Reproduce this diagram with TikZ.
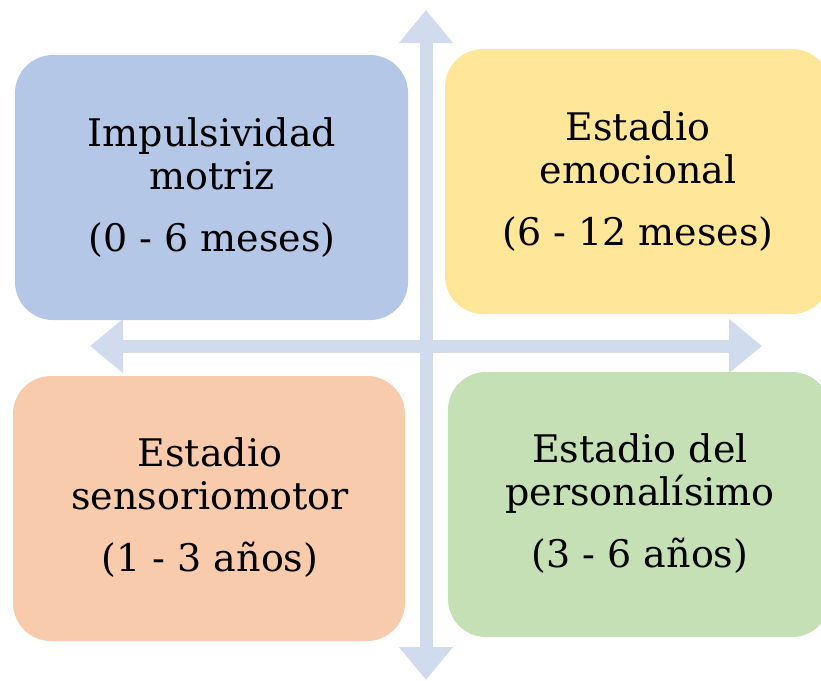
\documentclass[tikz,border=0pt]{standalone}
\usepackage{fontspec}
\setmainfont{DejaVu Serif}
\usetikzlibrary{arrows.meta}
\definecolor{cblue}{HTML}{B4C7E7}
\definecolor{cyellow}{HTML}{FFE699}
\definecolor{corange}{HTML}{F8CBAD}
\definecolor{cgreen}{HTML}{C5E0B4}
\definecolor{carrow}{HTML}{D0DCEE}
\tikzset{
  quad/.style={rounded corners=38pt, inner sep=0pt, outer sep=0pt},
  lbl/.style={align=center, font=\fontsize{38}{43}\selectfont, text=black, inner sep=0pt},
  axis/.style={carrow, line width=13pt, {Triangle[width=52pt,length=33pt]}-{Triangle[width=52pt,length=33pt]}}
}
\begin{document}
\begin{tikzpicture}[x=1pt,y=-1pt]
\useasboundingbox (0,0) rectangle (821,680);
\clip (0,0) rectangle (821,680);
\coordinate (vt) at (426,10);
\coordinate (vb) at (426,680);
\coordinate (hl) at (90,346);
\coordinate (hr) at (762,346);
\draw[axis] (vt) -- (vb);
\draw[axis] (hl) -- (hr);
\fill[cblue, quad] (15,55) rectangle (408,320);
\fill[cyellow, quad] (445,49) rectangle (830,314);
\fill[corange, quad] (13,376) rectangle (405,641);
\fill[cgreen, quad] (448,372) rectangle (830,637);
\node[lbl] (t1) at (212,188) {Impulsividad\\motriz\\[19pt](0 - 6 meses)};
\node[lbl] (t2) at (638,182) {Estadio\\emocional\\[19pt](6 - 12 meses)};
\node[lbl] (t3) at (210,508) {Estadio\\sensoriomotor\\[19pt](1 - 3 años)};
\node[lbl] (t4) at (640,504) {Estadio del\\personalísimo\\[19pt](3 - 6 años)};
\end{tikzpicture}
\end{document}
